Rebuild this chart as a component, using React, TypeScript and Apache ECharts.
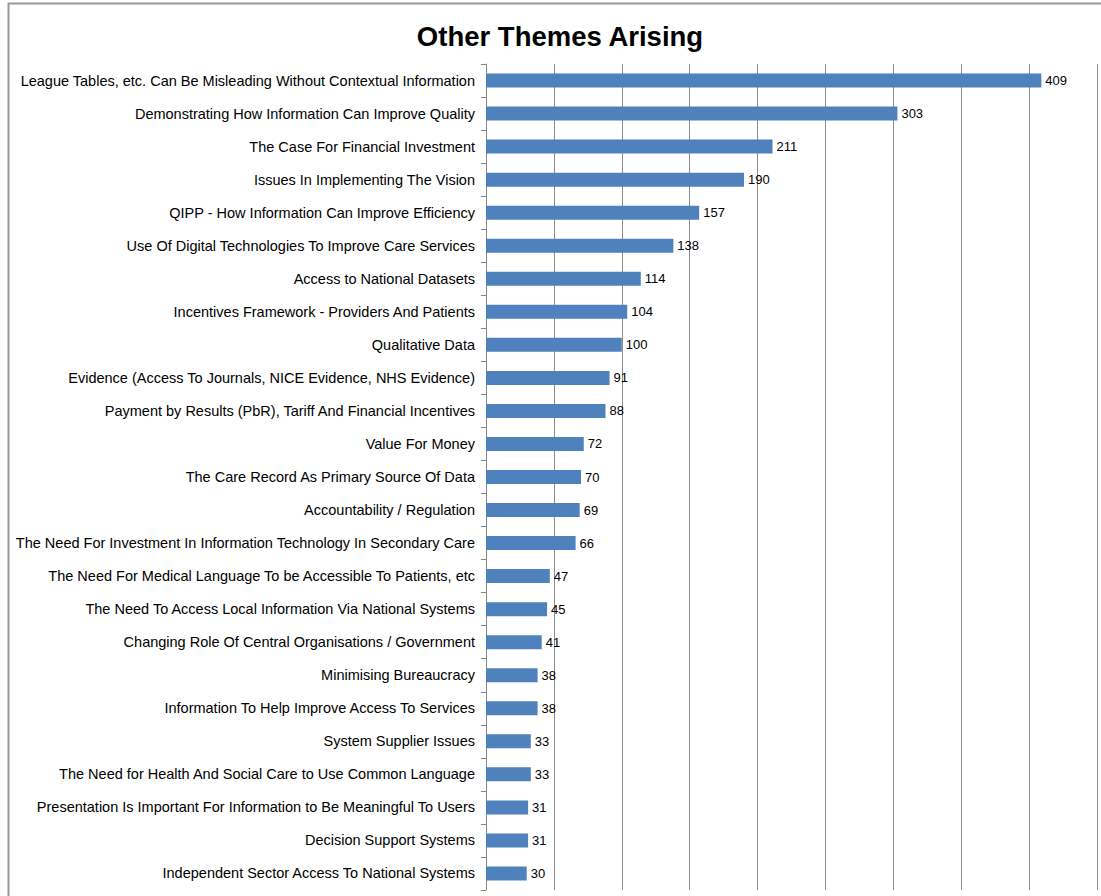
import React, { useEffect, useRef } from "react";
import * as echarts from "echarts";

const categories = [
  "League Tables, etc. Can Be Misleading Without Contextual Information",
  "Demonstrating How Information Can Improve Quality",
  "The Case For Financial Investment",
  "Issues In Implementing The Vision",
  "QIPP - How Information Can Improve Efficiency",
  "Use Of Digital Technologies To Improve Care Services",
  "Access to National Datasets",
  "Incentives Framework - Providers And Patients",
  "Qualitative Data",
  "Evidence (Access To Journals, NICE Evidence, NHS Evidence)",
  "Payment by Results (PbR), Tariff And Financial Incentives",
  "Value For Money",
  "The Care Record As Primary Source Of Data",
  "Accountability / Regulation",
  "The Need For Investment In Information Technology In Secondary Care",
  "The Need For Medical Language To be Accessible To Patients, etc",
  "The Need To Access Local Information Via National Systems",
  "Changing Role Of Central Organisations / Government",
  "Minimising Bureaucracy",
  "Information To Help Improve Access To Services",
  "System Supplier Issues",
  "The Need for Health And Social Care to Use Common Language",
  "Presentation Is Important For Information to Be Meaningful To Users",
  "Decision Support Systems",
  "Independent Sector Access To National Systems",
];

const values = [409, 303, 211, 190, 157, 138, 114, 104, 100, 91, 88, 72, 70, 69, 66, 47, 45, 41, 38, 38, 33, 33, 31, 31, 30];

const title = "Other Themes Arising";

export default function App() {
  const ref = useRef<HTMLDivElement>(null);
  useEffect(() => {
    document.body.style.margin = "0";
    const chart = echarts.init(ref.current!, null, { renderer: "svg" });
    chart.setOption({
      animation: false,
      backgroundColor: "#ffffff",
      title: {
        text: title,
        left: 555,
        textAlign: "center",
        top: 17,
        textStyle: {
          fontFamily: "Liberation Sans, Arial, sans-serif",
          fontWeight: "bold",
          fontSize: 27.5,
          color: "#000",
        },
      },
      graphic: [
        {
          type: "rect",
          shape: { x: 8.5, y: 3.5, width: 1200, height: 1000 },
          style: { fill: "none", stroke: "#999999", lineWidth: 2 },
          silent: true,
          z: -1,
        },
      ],
      grid: { left: 486, right: 4, top: 64, bottom: 6, containLabel: false },
      xAxis: {
        type: "value",
        min: 0,
        max: 450,
        interval: 50,
        axisLine: { show: false },
        axisTick: { show: false },
        axisLabel: { show: false },
        splitLine: { show: true, lineStyle: { color: "#8c8c8c", width: 1 } },
      },
      yAxis: {
        type: "category",
        data: categories,
        inverse: true,
        axisLine: { show: true, lineStyle: { color: "#888888", width: 1 } },
        axisTick: { show: true, length: 5, lineStyle: { color: "#888888" } },
        axisLabel: {
          fontFamily: "Liberation Sans, Arial, sans-serif",
          fontSize: 14.5,
          color: "#000",
          margin: 11,
        },
      },
      series: [
        {
          type: "bar",
          data: values,
          barWidth: 14,
          itemStyle: { color: "#4F81BD" },
          label: {
            show: true,
            position: "right",
            distance: 4,
            fontFamily: "Liberation Sans, Arial, sans-serif",
            fontSize: 13,
            color: "#000",
          },
        },
      ],
    });
    return () => chart.dispose();
  }, []);
  return (
    <div
      ref={ref}
      style={{ position: "absolute", left: 0, top: 0, width: 1101, height: 896 }}
    />
  );
}
